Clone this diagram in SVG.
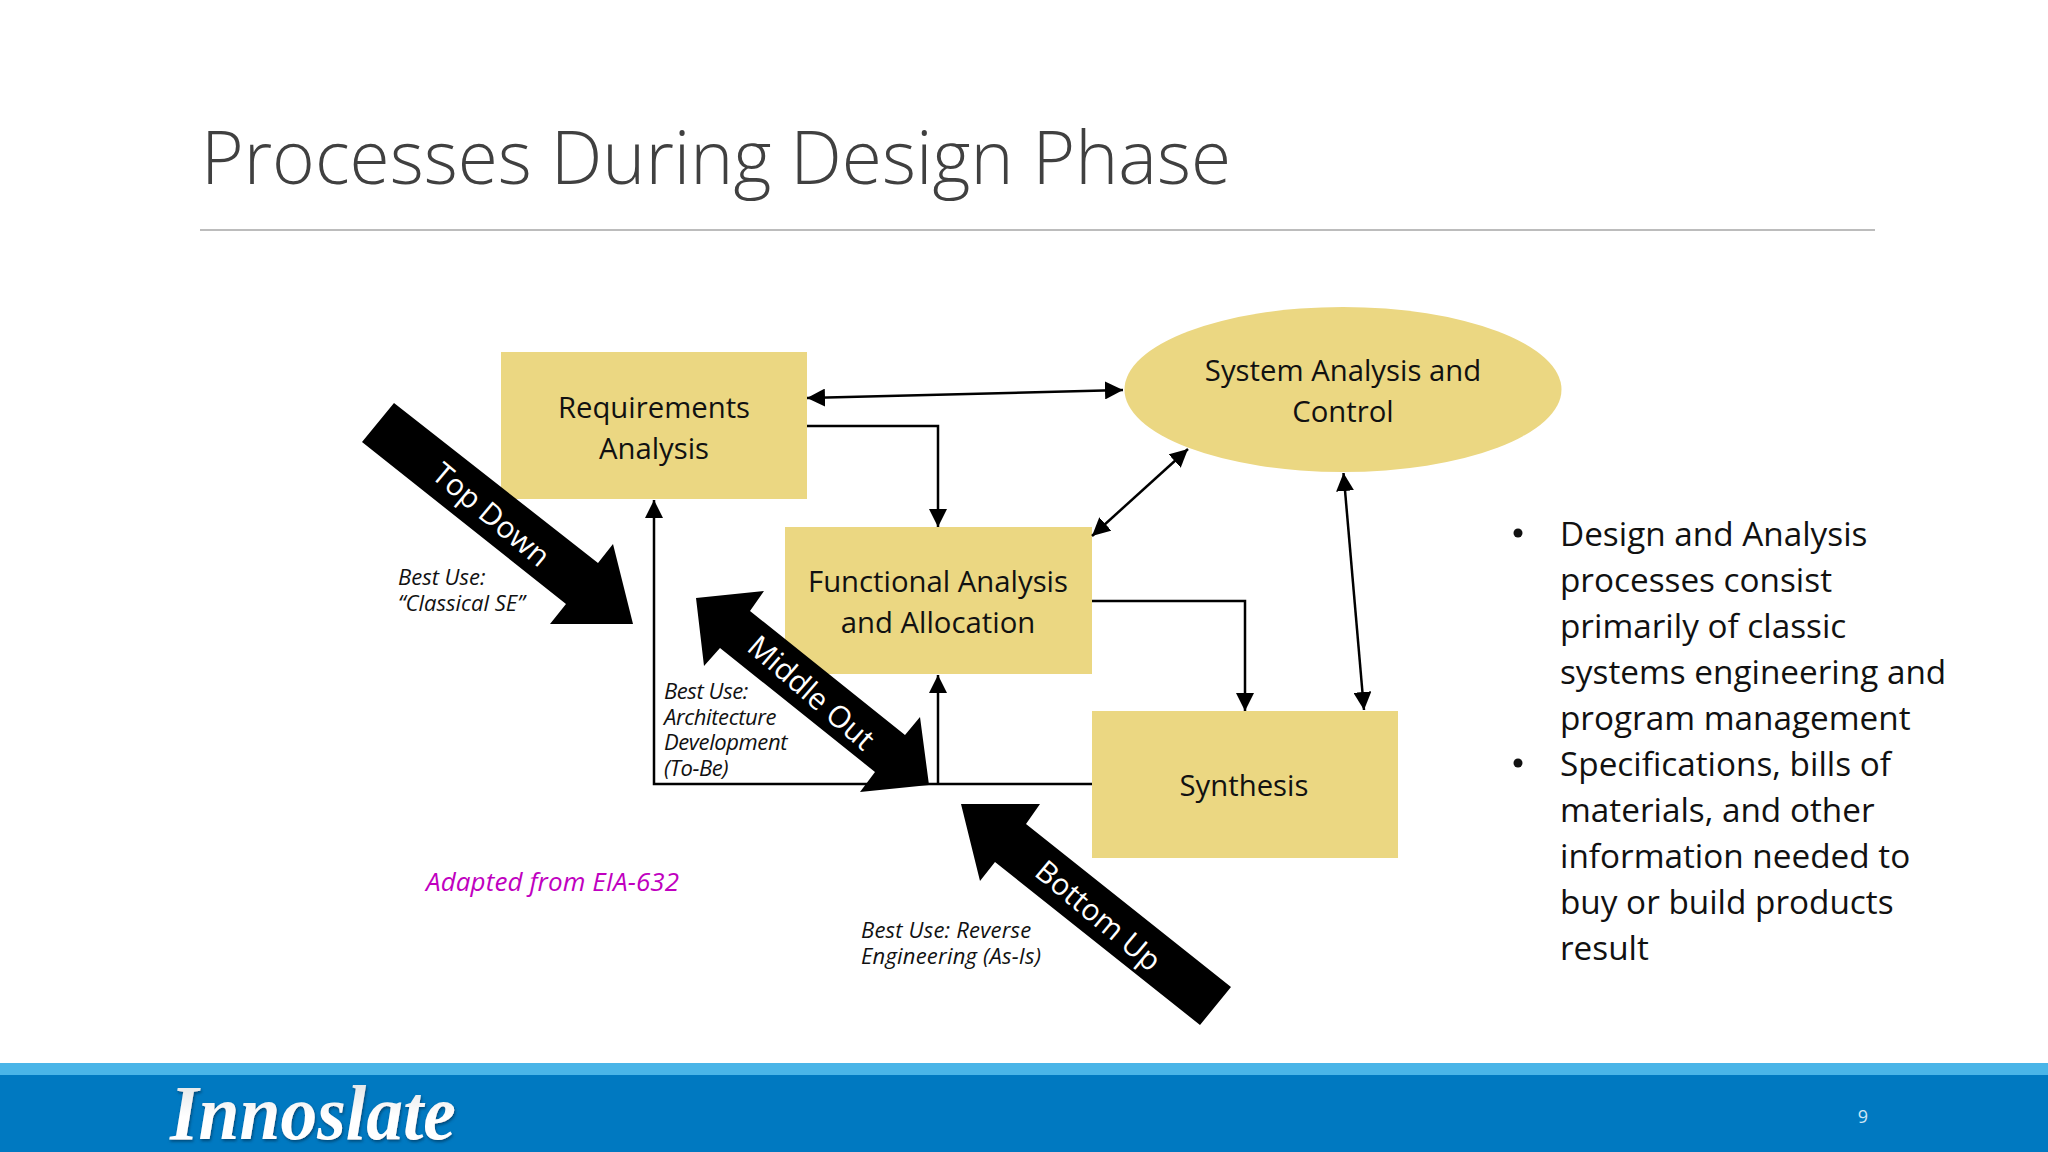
<svg xmlns="http://www.w3.org/2000/svg" width="2048" height="1152" viewBox="0 0 2048 1152">
<defs>
<style>
text{font-family:"Open Sans","Noto Sans",sans-serif;fill:#111}
.n{fill:#ebd782}
.l{font-size:29.300px;text-anchor:middle}
.i{font-size:22px;font-style:italic;letter-spacing:-.4px}
.b{font-size:33.300px}
.a{font-size:30px;fill:#fff;text-anchor:middle}
.c{fill:none;stroke:#000;stroke-width:2.5}
.bg{fill:#000}
</style>
<marker id="h" viewBox="0 0 18 18" refX="18" refY="9" markerWidth="18" markerHeight="18" markerUnits="userSpaceOnUse" orient="auto-start-reverse"><path d="M0 0L18 9L0 18Z" fill="#000"/></marker>
<linearGradient id="lg" x1="0" y1="0" x2="0" y2="1"><stop offset="0" stop-color="#d8dcdf"/><stop offset=".55" stop-color="#fff"/></linearGradient>
<filter id="sh" x="-5%" y="-10%" width="110%" height="125%"><feDropShadow dx="1" dy="2" stdDeviation="1.5" flood-color="#024a78"/></filter>
</defs>
<rect width="2048" height="1152" fill="#fff"/>
<g id="header">
<text x="201" y="184" font-size="73" font-weight="300" style="fill:#404040">Processes During Design Phase</text>
<line x1="200" y1="230" x2="1875" y2="230" stroke="#a6a6a6" stroke-width="1.5"/>
</g>
<g id="req"><rect class="n" x="501" y="352" width="306" height="147"/><text class="l" x="654" y="418">Requirements</text><text class="l" x="654" y="459">Analysis</text></g>
<g id="sac"><ellipse class="n" cx="1343" cy="389.500" rx="218.500" ry="82.500"/><text class="l" x="1343" y="381">System Analysis and</text><text class="l" x="1343" y="422">Control</text></g>
<g id="faa"><rect class="n" x="785" y="527" width="307" height="147"/><text class="l" x="938" y="592">Functional Analysis</text><text class="l" x="938" y="633">and Allocation</text></g>
<g id="syn"><rect class="n" x="1092" y="711" width="306" height="147"/><text class="l" x="1244" y="796">Synthesis</text></g>
<g id="connectors">
<line class="c" x1="807" y1="398" x2="1123" y2="390" marker-start="url(#h)" marker-end="url(#h)"/>
<path class="c" d="M807 426H938V527" marker-end="url(#h)"/>
<line class="c" x1="1092" y1="536" x2="1188" y2="449" marker-start="url(#h)" marker-end="url(#h)"/>
<path class="c" d="M1092 601H1245V711" marker-end="url(#h)"/>
<line class="c" x1="1343.500" y1="473" x2="1364" y2="710" marker-start="url(#h)" marker-end="url(#h)"/>
<path class="c" d="M1092 784H654V500" marker-end="url(#h)"/>
<path class="c" d="M938 784V675" marker-end="url(#h)"/>
</g>
<g id="topdown">
<polygon class="bg" points="394,403 362,442 566,604 550,624 633,624 613,544 598,563"/>
<text class="a" transform="translate(491,515) rotate(40)" y="10">Top Down</text>
</g>
<g id="middleout">
<polygon class="bg" points="696,598 764,591 750,611 905,735 920,717 929,785 860,792 875,772 720,648 704,666"/>
<text class="a" transform="translate(811,693) rotate(41)" y="10">Middle Out</text>
</g>
<g id="bottomup">
<polygon class="bg" points="961,804 1040,804 1026,824 1231,987 1200,1025 995,862 980,881"/>
<text class="a" transform="translate(1098,916) rotate(40)" y="10">Bottom Up</text>
</g>
<g id="notes">
<text class="i" x="398" y="585" style="letter-spacing:0">Best Use:</text><text class="i" x="398" y="611" style="letter-spacing:0">“Classical SE”</text>
<text class="i" x="664" y="699">Best Use:</text><text class="i" x="664" y="725">Architecture</text><text class="i" x="664" y="750">Development</text><text class="i" x="664" y="776">(To-Be)</text>
<text class="i" x="861" y="938" style="letter-spacing:.2px">Best Use: Reverse</text><text class="i" x="861" y="964" style="letter-spacing:.2px">Engineering (As-Is)</text>
<text x="426" y="891" font-size="26" font-style="italic" letter-spacing=".1" style="fill:#c000c0">Adapted from EIA-632</text>
</g>
<g id="bullets">
<circle cx="1518" cy="533" r="4.500" fill="#111"/><circle cx="1518" cy="763" r="4.500" fill="#111"/>
<text class="b" x="1560" y="546">Design and Analysis</text>
<text class="b" x="1560" y="592">processes consist</text>
<text class="b" x="1560" y="638">primarily of classic</text>
<text class="b" x="1560" y="684">systems engineering and</text>
<text class="b" x="1560" y="730">program management</text>
<text class="b" x="1560" y="776">Specifications, bills of</text>
<text class="b" x="1560" y="822">materials, and other</text>
<text class="b" x="1560" y="868">information needed to</text>
<text class="b" x="1560" y="914">buy or build products</text>
<text class="b" x="1560" y="960">result</text>
</g>
<g id="footer">
<rect y="1063" width="2048" height="12" fill="#4ab5e8"/>
<rect y="1075" width="2048" height="77" fill="#0079c1"/>
<text x="170" y="1139" font-size="78" font-weight="700" font-style="italic" filter="url(#sh)" style="font-family:'Liberation Serif',serif;fill:url(#lg)" textLength="286" lengthAdjust="spacingAndGlyphs">Innoslate</text>
<text x="1863" y="1123" font-size="18" text-anchor="middle" style="fill:#cfe6f5">9</text>
</g>
</svg>
